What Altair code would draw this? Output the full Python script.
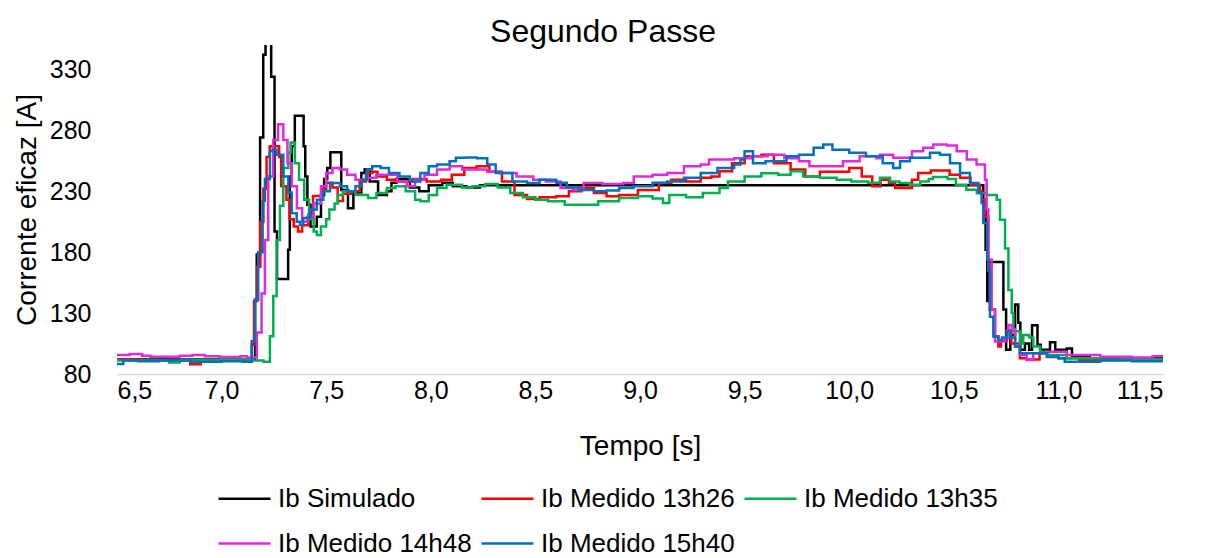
import altair as alt
import pandas as pd

# ---------------- data ----------------
series_names = ["Ib Simulado", "Ib Medido 13h26", "Ib Medido 13h35",
                "Ib Medido 14h48", "Ib Medido 15h40"]
series_colors = ["#000000", "#FF0000", "#00B050", "#DF2BDF", "#0070C0"]

t_sim = [6.50, 7.000, 7.160, 7.168, 7.184, 7.199, 7.210, 7.237, 7.253, 7.265,
         7.318, 7.326, 7.335, 7.350, 7.392, 7.400, 7.410, 7.425, 7.455, 7.475,
         7.490, 7.505, 7.520, 7.572, 7.604, 7.630, 7.668, 7.684, 7.708, 7.748,
         7.790, 7.812, 7.836, 7.900, 7.945, 7.990, 8.055, 8.105, 8.170, 8.235,
         10.641, 10.652, 10.660, 10.667, 10.737, 10.750, 10.770, 10.793, 10.808,
         10.818, 10.840, 10.860, 10.874, 10.900, 10.915, 10.960, 10.985, 11.040,
         11.065, 11.150, 11.500]
ib_sim = [92, 92, 141, 178, 274, 342, 365, 324, 197, 158,
          182, 242, 267, 292, 267, 242, 219, 201, 209, 227,
          240, 249, 262, 231, 216, 229, 245, 248, 238, 227,
          230, 237, 240, 233, 230, 235, 237, 234, 233, 235,
          214, 182, 140, 172, 133, 100, 112, 137, 122,
          100, 105, 100, 120, 104, 100, 106, 100, 101,
          95, 93, 93]

t_1326 = [6.50, 6.62, 6.85, 6.90, 7.00, 7.10,
          7.144, 7.155, 7.170, 7.185, 7.200, 7.215, 7.230, 7.275, 7.285, 7.310,
          7.325, 7.345, 7.365, 7.385, 7.415, 7.437, 7.480, 7.500, 7.530, 7.555,
          7.580, 7.620, 7.660, 7.690, 7.720, 7.745, 7.790, 7.835, 7.870, 7.915,
          7.98, 8.05, 8.10, 8.16, 8.22, 8.28, 8.34, 8.40, 8.46, 8.52,
          8.60, 8.66, 8.72, 8.78, 8.84, 8.90, 8.99, 9.09, 9.15, 9.22,
          9.29, 9.34, 9.38, 9.44, 9.50, 9.58, 9.64, 9.72, 9.79, 9.86,
          9.94, 10.00, 10.06, 10.11, 10.15, 10.19, 10.22, 10.30, 10.33, 10.39,
          10.48, 10.53, 10.58, 10.625, 10.635, 10.649, 10.665, 10.672, 10.697, 10.713,
          10.725, 10.753, 10.775, 10.816, 10.85, 10.91, 10.95, 11.0, 11.1, 11.3,
          11.5]
ib_1326 = [92, 91, 88, 91.5, 92, 91,
           104, 140, 168, 205, 232, 258, 267, 258, 234, 223,
           207, 201, 197, 202, 211, 226, 232, 237, 233, 222,
           228, 230, 238, 245, 246, 242, 239.5, 238, 238, 240,
           238, 239.5, 243.6, 249, 250.5, 246, 238, 227, 223.6, 225,
           225.8, 230, 232.7, 228.6, 225.8, 227, 231, 236.8, 239.5, 238,
           241, 242, 246.4, 253, 258.7, 260, 253, 247.8, 242, 246,
           246, 249, 242, 234, 239.5, 236.8, 232.7, 239.5, 245, 247,
           243.6, 241, 235.4, 230, 223, 209, 170, 133, 111, 102.5,
           108, 116, 105, 93, 92, 97, 94, 93, 91.5, 92,
           91.5]

t_1335 = [6.50, 6.75, 6.80, 7.00, 7.15, 7.20,
          7.231, 7.247, 7.263, 7.279, 7.295, 7.319, 7.330, 7.350, 7.370, 7.395,
          7.418, 7.440, 7.455, 7.475, 7.500, 7.515, 7.540, 7.556, 7.580, 7.640,
          7.700, 7.740, 7.790, 7.830, 7.880, 7.925, 7.950, 7.990, 8.030, 8.075,
          8.15, 8.20, 8.26, 8.32, 8.38, 8.44, 8.50, 8.56, 8.64, 8.74,
          8.80, 8.90, 8.99, 9.06, 9.11, 9.14, 9.22, 9.30, 9.38, 9.42,
          9.50, 9.58, 9.66, 9.72, 9.78, 9.86, 9.94, 10.01, 10.09, 10.147,
          10.195, 10.24, 10.29, 10.34, 10.38, 10.40, 10.47, 10.51, 10.56, 10.61,
          10.657, 10.705, 10.721, 10.745, 10.761, 10.777, 10.785, 10.816, 10.832, 10.86,
          10.88, 10.912, 10.95, 11.04, 11.2, 11.5]
ib_1335 = [91, 89.5, 91.5, 92, 91, 90,
           111, 144, 190, 218, 249, 261.5, 270, 253, 239.5, 223,
           207, 197, 194, 201, 207, 215, 220, 227, 230, 227,
           224.5, 228.6, 232.7, 234, 230, 223, 221.7, 227, 232.7, 235.4,
           233, 234, 236, 233, 228.6, 225, 223, 221.7, 219, 219,
           221.7, 224.5, 225.8, 224, 220.4, 227, 225, 228.6, 232.7, 238,
           242, 244.8, 243.5, 246.4, 242, 241, 239.5, 238, 237, 241,
           238, 236.8, 235.4, 238, 240, 241.7, 240, 235.4, 231.3, 228.6,
           227, 223, 206.6, 183, 149, 130, 115, 105, 112, 110,
           102.5, 98.3, 95.6, 93, 92, 92]

t_1448 = [6.50, 6.56, 6.62, 6.66, 6.80, 6.86, 6.92, 6.99, 7.09, 7.12,
          7.168, 7.191, 7.207, 7.223, 7.247, 7.270, 7.295, 7.315, 7.335, 7.360,
          7.385, 7.410, 7.440, 7.475, 7.500, 7.530, 7.565, 7.600, 7.640, 7.700,
          7.740, 7.800, 7.840, 7.885, 7.925, 7.970, 8.03, 8.09, 8.15, 8.22,
          8.27, 8.33, 8.41, 8.49, 8.55, 8.62, 8.68, 8.73, 8.82, 8.92,
          8.97, 9.06, 9.13, 9.21, 9.29, 9.33, 9.45, 9.53, 9.61, 9.69,
          9.76, 9.81, 9.89, 9.97, 10.05, 10.13, 10.147, 10.21, 10.30, 10.354,
          10.402, 10.466, 10.514, 10.562, 10.609, 10.649, 10.657, 10.665, 10.681, 10.697,
          10.745, 10.761, 10.777, 10.793, 10.816, 10.848, 10.88, 10.944, 11.04, 11.2,
          11.35, 11.45, 11.5]
ib_1448 = [95.6, 96.4, 95, 94.2, 95, 95.6, 94.5, 94, 94.5, 93.5,
           114, 146, 190, 242, 272, 285, 272, 253, 234, 216,
           205, 209, 220, 234, 245, 249, 247.8, 243.6, 239.5, 241,
           243.6, 243.6, 238, 234, 239.5, 243.6, 247.8, 250.5, 247.8, 247.8,
           246, 245, 242, 239.5, 238, 232.7, 231, 236.8, 236, 236.8,
           242, 243.6, 245, 250.5, 252, 256, 257, 258.7, 260, 257,
           254.6, 250.5, 250.5, 254.6, 258.7, 257, 260, 257.4, 262.8, 265.6,
           268.3, 267.5, 262.8, 256, 252, 239.5, 215, 174, 133, 106.6,
           109.3, 120.3, 117, 102.5, 95.6, 91.5, 97, 98.3, 95.6, 94.2,
           93.5, 94.5, 95]

t_1540 = [6.50, 6.53, 6.60, 6.70, 6.85, 7.00, 7.10,
          7.144, 7.160, 7.175, 7.196, 7.207, 7.231, 7.244, 7.263, 7.295, 7.319,
          7.335, 7.359, 7.375, 7.390, 7.423, 7.455, 7.486, 7.518, 7.566, 7.600,
          7.640, 7.670, 7.694, 7.720, 7.760, 7.800, 7.850, 7.900, 7.916, 7.950,
          7.990, 8.03, 8.09, 8.12, 8.17, 8.22, 8.27, 8.31, 8.39, 8.46,
          8.52, 8.60, 8.65, 8.71, 8.78, 8.84, 8.90, 8.97, 9.06, 9.13,
          9.21, 9.29, 9.37, 9.45, 9.48, 9.50, 9.54, 9.60, 9.70, 9.76,
          9.83, 9.876, 9.92, 10.00, 10.08, 10.16, 10.21, 10.243, 10.29, 10.386,
          10.434, 10.482, 10.53, 10.577, 10.617, 10.633, 10.641, 10.66, 10.665, 10.673,
          10.689, 10.713, 10.73, 10.753, 10.77, 10.793, 10.816, 10.88, 10.944, 11.0,
          11.03, 11.2, 11.35, 11.5]
ib_1540 = [88.2, 91, 90.5, 91, 90, 90.5, 90,
           107, 141, 180, 222, 240, 263, 264, 260, 242, 229,
           212, 205, 202.5, 208, 215, 223, 230, 236.8, 234, 230,
           234, 239.5, 247.8, 250.5, 249, 245, 242, 239.5, 238, 245,
           250.5, 252, 254.6, 257.4, 257.6, 257, 252, 245, 238, 236.8,
           239.5, 237, 233, 231, 230, 230.6, 232.7, 234, 237, 238,
           241, 245, 249, 252, 256, 262.8, 253, 254.6, 258.7, 260,
           265.6, 268.3, 264, 261.5, 258.7, 253, 249, 254.6, 257.4, 261.5,
           260, 253, 245, 236.8, 228.6, 220.4, 204, 174, 165, 127,
           110.7, 108, 110, 114.8, 110, 102.5, 97, 97, 94.2, 92.9,
           90, 91, 90.5, 91]

x_ticks = [6.5, 7.0, 7.5, 8.0, 8.5, 9.0, 9.5, 10.0, 10.5, 11.0, 11.5]
y_ticks = [80, 130, 180, 230, 280, 330]

# ---------------- table ----------------
frames = []
for name, ts, vs in zip(series_names,
                        [t_sim, t_1326, t_1335, t_1448, t_1540],
                        [ib_sim, ib_1326, ib_1335, ib_1448, ib_1540]):
    frames.append(pd.DataFrame({"t": ts, "ib": vs, "serie": name}))
df = pd.concat(frames, ignore_index=True)

FONT = "Liberation Sans"

chart = alt.Chart(df).mark_line(
    interpolate="step-after", strokeWidth=2.5, clip=True
).encode(
    x=alt.X("t:Q", title="Tempo [s]",
            scale=alt.Scale(domain=[6.5, 11.5], nice=False, zero=False),
            axis=alt.Axis(values=x_ticks,
                          labelExpr="replace(format(datum.value, '.1f'), '.', ',')",
                          grid=False, ticks=False, domainColor="#D9D9D9",
                          domainWidth=1.5, labelPadding=4, titlePadding=29,
                          labelFontSize=25, titleFontSize=28, labelFont=FONT,
                          titleFont=FONT, titleFontWeight="normal",
                          labelColor="#000000", titleColor="#000000")),
    y=alt.Y("ib:Q", title="Corrente eficaz [A]",
            scale=alt.Scale(domain=[80, 350], nice=False, zero=False),
            axis=alt.Axis(values=y_ticks, grid=False, ticks=False, domain=False,
                          labelPadding=26, titlePadding=8,
                          labelFontSize=25, titleFontSize=28, labelFont=FONT,
                          titleFont=FONT, titleFontWeight="normal",
                          labelColor="#000000", titleColor="#000000")),
    color=alt.Color("serie:N",
                    scale=alt.Scale(domain=series_names, range=series_colors),
                    legend=alt.Legend(title=None, orient="none", legendX=100,
                                      legendY=426, columns=3, direction="horizontal",
                                      symbolType="stroke",
                                      symbolSize=2704, symbolStrokeWidth=2.5,
                                      labelFontSize=26, labelFont=FONT,
                                      labelColor="#000000", labelLimit=400,
                                      labelOffset=6, columnPadding=4,
                                      rowPadding=4, padding=0)),
).properties(
    width=1046, height=329,
    background="white",
    title=alt.TitleParams("Segundo Passe", fontSize=32, font=FONT,
                          fontWeight="normal", color="#000000", offset=-4, dx=-37),
    autosize=alt.AutoSizeParams(type="none"),
    padding={"left": 117, "top": 45, "right": 42, "bottom": 184}
).configure_view(stroke="transparent", strokeWidth=0)

chart.save("out.html", embed_options={"renderer": "svg", "actions": False})
